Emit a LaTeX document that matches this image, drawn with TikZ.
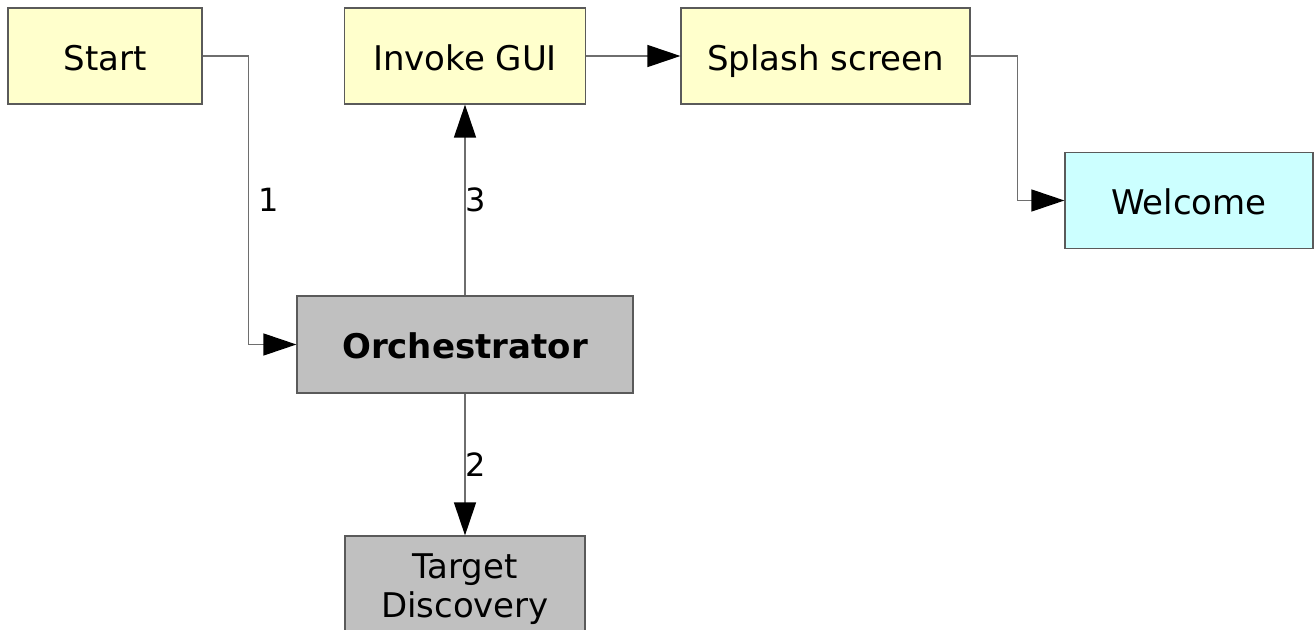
\documentclass[tikz,border=0pt]{standalone}
\usepackage{fontspec}
\setmainfont{DejaVu Sans}
\usetikzlibrary{arrows.meta}
\definecolor{paleyellow}{HTML}{FFFFCC}
\definecolor{palecyan}{HTML}{CCFFFF}
\definecolor{silvergray}{HTML}{C0C0C0}
\definecolor{edgegray}{HTML}{5A5A5A}
\definecolor{wiregray}{HTML}{6E6E6E}
\begin{document}
\begin{tikzpicture}[x=1pt,y=-1pt,
  box/.style={draw=edgegray, line width=1.2pt, inner sep=0pt, align=center,
    text height=28pt, text depth=0pt,
    font=\fontsize{34}{39}\selectfont},
  flow/.style={draw=wiregray, line width=1.3pt,
    -{Triangle[length=33pt,width=22pt,fill=black,color=black]}},
  tag/.style={font=\fontsize{32}{38}\selectfont, inner sep=0pt, anchor=west}]
\clip (0,0) rectangle (1314,629);
\fill[white] (0,0) rectangle (1314,629);

\node[box, fill=paleyellow, minimum width=194pt, minimum height=96pt] (start) at (105,56) {Start};
\node[box, fill=paleyellow, minimum width=241pt, minimum height=96pt] (invoke) at (465,56) {Invoke GUI};
\node[box, fill=paleyellow, minimum width=289pt, minimum height=96pt] (splash) at (825.5,56) {Splash screen};
\node[box, fill=palecyan, minimum width=248pt, minimum height=96pt] (welcome) at (1189,200.5) {Welcome};
\node[box, fill=silvergray, minimum width=336pt, minimum height=97pt,
  font=\fontsize{34}{39}\selectfont\bfseries] (orch) at (465,344.5) {Orchestrator};
\node[box, fill=silvergray, minimum width=240pt, minimum height=96pt,
  text height=67pt] (target) at (465,584) {Target\\Discovery};

\draw[flow] (start.east) -- ++(46,0) |- node[tag, pos=0.25, xshift=9pt] {1} (orch.west);
\draw[flow] (orch.north) -- node[tag, pos=0.5] {3} (invoke.south);
\draw[flow] (orch.south) -- node[tag, pos=0.5] {2} (target.north);
\draw[flow] (invoke.east) -- (splash.west);
\draw[flow] (splash.east) -- ++(47,0) |- (welcome.west);
\end{tikzpicture}
\end{document}
